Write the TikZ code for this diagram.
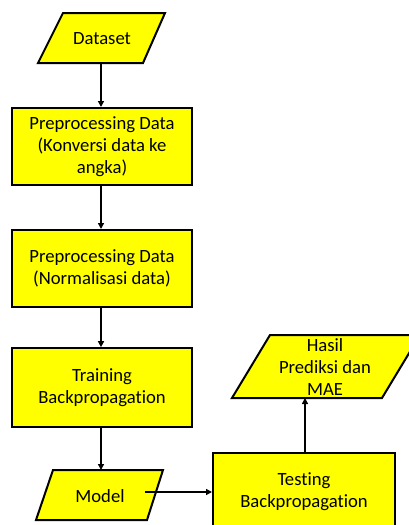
\documentclass[tikz,border=0pt]{standalone}
\usepackage{fontspec}
\setmainfont{Carlito}[RawFeature={-liga;-dlig;-clig}]
\usetikzlibrary{arrows.meta}
\definecolor{fillyellow}{RGB}{255,255,0}
\begin{document}
\begin{tikzpicture}[x=0.75pt,y=-0.75pt,
  txt/.style={font=\fontsize{14}{16.3}\selectfont},
  box/.style={txt, draw=black, line width=1.5pt, fill=fillyellow, minimum width=135pt, minimum height=57.75pt, align=center, inner sep=0pt},
  para/.style={draw=black, line width=1.5pt, fill=fillyellow, line join=miter},
  lbl/.style={txt, align=center, inner sep=0pt},
  conn/.style={line width=1.1pt, -{Triangle[length=4.5pt,width=4.5pt]}}]
\useasboundingbox (0,0) rectangle (409,525);
\fill[white] (0,0) rectangle (409,525);
\begin{scope}
\clip (0,0) rectangle (409,525);
% parallelograms
\draw[para] (63,13) -- (165,13) -- (143,63) -- (38,63) -- cycle;
\node[lbl] (dataset) at (102,39) {Dataset};
\coordinate (datasetB) at (101,63);

\node[box] (prep1) at (102,146.5) {Preprocessing Data\\(Konversi data ke\\angka)};
\node[box] (prep2) at (102,268.5) {Preprocessing Data\\(Normalisasi data)};
\node[box, minimum height=59pt] (train) at (102,387.5) {Training\\Backpropagation};

\draw[para] (53,470) -- (163,470) -- (147,520) -- (36,520) -- cycle;
\node[lbl] (model) at (100,496) {Model};
\coordinate (modelT) at (101,470);
\coordinate (modelR) at (145,492);

\node[box, minimum width=136.5pt] (test) at (304,491.5) {Testing\\Backpropagation};

\draw[para] (270,335) -- (420,335) -- (382,398) -- (232,398) -- cycle;
\node[lbl] (hasil) at (325,367) {Hasil\\Prediksi dan\\MAE};
\coordinate (hasilB) at (305,398);

% connectors
\draw[conn] (datasetB) -- (datasetB |- prep1.north);
\draw[conn] (prep1.south -| datasetB) -- (datasetB |- prep2.north);
\draw[conn] (prep2.south -| datasetB) -- (datasetB |- train.north);
\draw[conn] (train.south -| datasetB) -- (modelT);
\draw[conn] (modelR) -- (modelR -| test.west);
\draw[conn] (test.north -| hasilB) -- (hasilB);
\end{scope}
\end{tikzpicture}
\end{document}
